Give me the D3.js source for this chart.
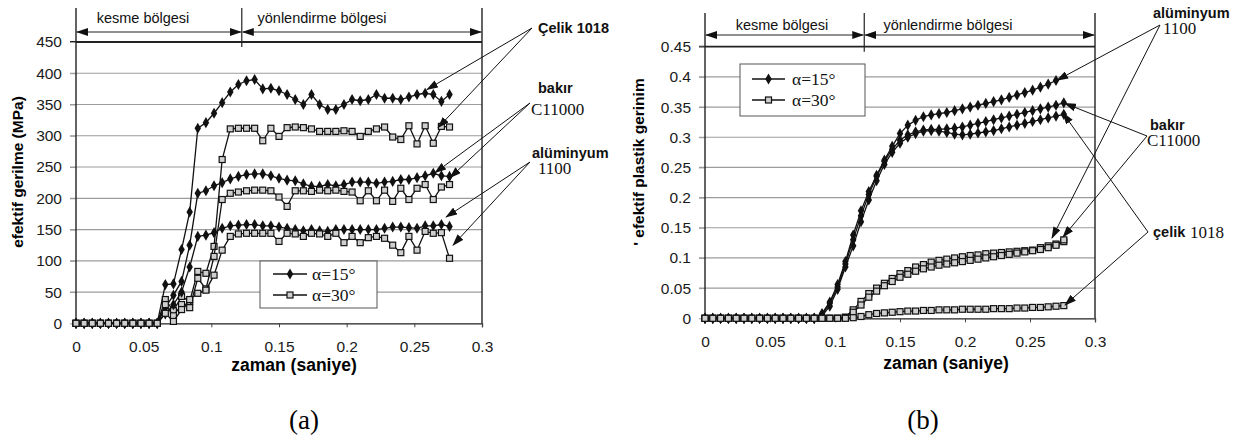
<!DOCTYPE html>
<html>
<head>
<meta charset="utf-8">
<script src="https://cdn.jsdelivr.net/npm/d3@7"></script>
<style>
body{margin:0;background:#fff}
svg{display:block}
</style>
</head>
<body>
<svg id="fig" width="1233" height="437"></svg>
<script>
// sampling times (s), shared by all curves
var timeS = [0,0.006,0.012,0.018,0.024,0.03,0.036,0.042,0.048,0.054,0.06,0.066,0.072,0.078,0.084,0.09,0.096,0.102,0.108,0.114,0.12,0.126,0.132,0.138,0.144,0.15,0.156,0.162,0.168,0.174,0.18,0.186,0.192,0.198,0.204,0.21,0.216,0.222,0.228,0.234,0.24,0.246,0.252,0.258,0.264,0.27,0.276];
var xTicks = [0,0.05,0.1,0.15,0.2,0.25,0.3];

// (a) efektif gerilme, MPa
var stressTicks = [0,50,100,150,200,250,300,350,400,450];
var celikA15 = [0,0,0,0,0,0,0,0,0,0,0,62,63,118,178,312,321,336,353,370,382,388,390,375,376,372,366,358,350,366,350,342,342,350,358,356,358,366,360,360,358,362,366,368,366,355,366];
var celikA30 = [0,0,0,0,0,0,0,0,0,0,0,38,20,43,35,83,80,123,262,311,312,312,312,292,312,299,313,314,313,311,307,307,307,308,307,299,307,311,314,298,294,316,287,316,288,315,314];
var bakirA15 = [0,0,0,0,0,0,0,0,0,0,0,25,45,67,125,208,212,220,225,231,235,238,239,239,236,232,229,228,223,219,219,222,220,222,226,226,226,224,226,227,230,230,233,236,240,236,235];
var bakirA30 = [0,0,0,0,0,0,0,0,0,0,0,30,12,30,25,72,55,107,198,208,210,212,213,213,212,202,187,212,212,211,213,212,213,211,210,196,212,196,213,195,216,198,216,222,198,218,222];
var aluA15 = [0,0,0,0,0,0,0,0,0,0,0,15,30,50,90,139,141,145,152,156,157,158,158,156,156,154,152,150,148,150,148,147,150,150,150,150,150,150,152,154,154,153,152,156,156,158,155];
var aluA30 = [0,0,0,0,0,0,0,0,0,0,0,16,3,22,38,48,53,77,117,139,143,144,144,144,144,131,144,143,139,144,143,139,144,129,139,129,137,139,136,125,113,139,117,147,144,145,104];

// (b) efektif plastik gerinim
var strainTicks = [0,0.05,0.1,0.15,0.2,0.25,0.3,0.35,0.4,0.45];
var aluB15 = [0,0,0,0,0,0,0,0,0,0,0,0,0,0,0,0.008,0.027,0.056,0.094,0.138,0.178,0.21,0.237,0.262,0.285,0.306,0.32,0.328,0.334,0.337,0.339,0.341,0.344,0.347,0.35,0.353,0.356,0.359,0.362,0.366,0.37,0.374,0.378,0.383,0.388,0.394];
var bakirB15 = [0,0,0,0,0,0,0,0,0,0,0,0,0,0,0,0.006,0.025,0.052,0.09,0.13,0.17,0.205,0.235,0.26,0.28,0.295,0.304,0.309,0.312,0.313,0.313,0.314,0.315,0.317,0.32,0.323,0.326,0.329,0.332,0.335,0.338,0.341,0.344,0.347,0.35,0.353,0.357];
var celikB15 = [0,0,0,0,0,0,0,0,0,0,0,0,0,0,0,0.004,0.02,0.048,0.085,0.12,0.16,0.196,0.228,0.255,0.275,0.29,0.3,0.306,0.31,0.311,0.31,0.308,0.305,0.304,0.305,0.307,0.309,0.311,0.314,0.317,0.32,0.323,0.326,0.329,0.332,0.335,0.338];
var aluB30 = [0,0,0,0,0,0,0,0,0,0,0,0,0,0,0,0,0,0,0.002,0.014,0.028,0.041,0.05,0.058,0.066,0.074,0.079,0.085,0.089,0.093,0.096,0.098,0.1,0.102,0.104,0.105,0.107,0.108,0.109,0.11,0.111,0.112,0.113,0.117,0.12,0.123,0.127];
var bakirB30 = [0,0,0,0,0,0,0,0,0,0,0,0,0,0,0,0,0,0,0.001,0.01,0.022,0.035,0.045,0.054,0.061,0.068,0.073,0.078,0.082,0.085,0.088,0.09,0.092,0.094,0.096,0.098,0.1,0.102,0.104,0.106,0.108,0.11,0.112,0.114,0.117,0.121,0.13];
var celikB30 = [0,0,0,0,0,0,0,0,0,0,0,0,0,0,0,0,0,0,0,0.001,0.003,0.006,0.008,0.009,0.01,0.011,0.012,0.012,0.013,0.013,0.014,0.014,0.014,0.015,0.015,0.015,0.015,0.016,0.016,0.016,0.017,0.017,0.018,0.018,0.019,0.02,0.021];

var legendNames = ["\u03b1=15\u00b0", "\u03b1=30\u00b0"];

var svg = d3.select("#fig");
var defs = svg.append("defs");
defs.append("marker").attr("id", "ah")
  .attr("markerUnits", "userSpaceOnUse")
  .attr("markerWidth", 12).attr("markerHeight", 8)
  .attr("refX", 11).attr("refY", 4)
  .attr("orient", "auto-start-reverse")
  .append("path").attr("d", "M0,0 L12,4 L0,8 z").attr("fill", "#111");

var fmt = function(d){ return d === 0 ? "0" : d3.format("~g")(d); };

function drawMark(g, kind, cx, cy){
  if (kind == "d") {
    g.append("path").attr("d", d3.symbol().type(d3.symbolDiamond).size(36)())
      .attr("transform", "translate(" + cx + "," + cy + ")").attr("fill", "#111");
  } else {
    g.append("rect").attr("x", cx - 3).attr("y", cy - 3)
      .attr("width", 6).attr("height", 6)
      .attr("fill", "#cfcfcf").attr("stroke", "#111").attr("stroke-width", 1.2);
  }
}

function drawPanel(p){
  var x = d3.scaleLinear().domain([0, 0.3]).range([p.left, p.right]);
  var y = d3.scaleLinear().domain([0, p.yMax]).range([p.bottom, p.top]);
  var g = svg.append("g");

  // grid
  g.selectAll(".grid").data(p.yTicks.filter(function(v){ return v > 0; }))
    .enter().append("line")
    .attr("x1", p.left - 6).attr("x2", p.right)
    .attr("y1", function(v){ return y(v); }).attr("y2", function(v){ return y(v); })
    .attr("stroke", function(v){ return v == p.yMax ? "#222" : "#9c9c9c"; })
    .attr("stroke-width", function(v){ return v == p.yMax ? 1.8 : 1.2; });

  // axes
  var ya = g.append("g").attr("transform", "translate(" + p.left + ",0)")
    .call(d3.axisLeft(y).tickValues(p.yTicks).tickFormat(fmt).tickSize(6).tickPadding(8));
  ya.select(".domain").remove();
  ya.selectAll("line").attr("stroke", "#9c9c9c");
  ya.selectAll("text").attr("font-family", "Liberation Sans, Arial, sans-serif")
    .attr("font-size", 15.5).attr("fill", "#1a1a1a");

  var xa = g.append("g").attr("transform", "translate(0," + p.bottom + ")")
    .call(d3.axisBottom(x).tickValues(xTicks).tickFormat(fmt).tickSize(4).tickPadding(14));
  xa.select(".domain").attr("stroke", "#222").attr("stroke-width", 1.3);
  xa.selectAll("line").attr("stroke", "#444");
  xa.selectAll("text").attr("font-family", "Liberation Sans, Arial, sans-serif")
    .attr("font-size", 15.5).attr("fill", "#1a1a1a");

  // frame verticals and zone marks
  [0, 0.3].forEach(function(t){
    g.append("line").attr("x1", x(t)).attr("x2", x(t))
      .attr("y1", p.vTop).attr("y2", p.bottom)
      .attr("stroke", "#222").attr("stroke-width", 1.4);
  });
  g.append("line").attr("x1", x(p.zoneT)).attr("x2", x(p.zoneT))
    .attr("y1", p.vTop).attr("y2", p.top + 5)
    .attr("stroke", "#222").attr("stroke-width", 1.2);
  [[0, p.zoneT], [p.zoneT, 0.3]].forEach(function(z){
    g.append("line").attr("x1", x(z[0]) + 1).attr("x2", x(z[1]) - 1)
      .attr("y1", p.arrowY).attr("y2", p.arrowY)
      .attr("stroke", "#222").attr("stroke-width", 1.2)
      .attr("marker-start", "url(#ah)").attr("marker-end", "url(#ah)");
  });
  p.zoneText.forEach(function(z){
    g.append("text").attr("x", z[0]).attr("y", p.zoneTextY)
      .attr("text-anchor", "middle")
      .attr("font-family", "Liberation Sans, Arial, sans-serif")
      .attr("font-size", 14.5).attr("fill", "#111").text(z[1]);
  });

  // titles
  g.append("text").attr("x", p.xTitle[0]).attr("y", p.xTitle[1])
    .attr("text-anchor", "middle").attr("font-family", "Liberation Sans, Arial, sans-serif")
    .attr("font-weight", "bold").attr("font-size", 17.5).attr("fill", "#000")
    .text("zaman (saniye)");
  g.append("text")
    .attr("transform", "translate(" + p.yTitle[0] + "," + p.yTitle[1] + ") rotate(-90)")
    .attr("text-anchor", "middle").attr("font-family", "Liberation Sans, Arial, sans-serif")
    .attr("font-weight", "bold").attr("font-size", 15.5).attr("fill", "#000")
    .text(p.yTitleText);

  // curves
  var line = d3.line().x(function(d){ return x(d[0]); }).y(function(d){ return y(d[1]); });
  p.series.forEach(function(s){
    var pts = s.vals.map(function(v, i){ return [timeS[i], v]; });
    g.append("path").attr("d", line(pts)).attr("fill", "none")
      .attr("stroke", "#111").attr("stroke-width", 1.3);
    pts.forEach(function(d){ drawMark(g, s.kind, x(d[0]), y(d[1])); });
  });

  // legend
  var L = p.legend;
  g.append("rect").attr("x", L.x).attr("y", L.y).attr("width", L.w).attr("height", L.h)
    .attr("fill", "#fff").attr("stroke", "#555").attr("stroke-width", 1);
  ["d", "s"].forEach(function(k, i){
    var ly = L.rowY[i];
    g.append("line").attr("x1", L.x + L.lx0).attr("x2", L.x + L.lx1)
      .attr("y1", ly).attr("y2", ly).attr("stroke", "#111").attr("stroke-width", 1.3);
    drawMark(g, k, L.x + (L.lx0 + L.lx1) / 2, ly);
    g.append("text").attr("x", L.x + L.tx).attr("y", ly + 6)
      .attr("font-family", "Liberation Serif, Times New Roman, serif")
      .attr("font-size", 17.5).attr("fill", "#111").text(legendNames[i]);
  });

  // annotations
  p.notes.forEach(function(n){
    n.tips.forEach(function(tp){
      g.append("line").attr("x1", n.from[0]).attr("y1", n.from[1])
        .attr("x2", x(tp[0])).attr("y2", y(tp[1]))
        .attr("stroke", "#111").attr("stroke-width", 1)
        .attr("marker-end", "url(#ah)");
    });
    n.labels.forEach(function(lb){
      g.append("text").attr("x", lb.x).attr("y", lb.y)
        .attr("font-family", lb.serif ? "Liberation Serif, Times New Roman, serif" : "Liberation Sans, Arial, sans-serif")
        .attr("font-weight", lb.serif ? "normal" : "bold")
        .attr("font-size", lb.serif ? 17 : 14.5).attr("fill", "#111").text(lb.t);
    });
  });

  svg.append("text").attr("x", p.caption[0]).attr("y", p.caption[1])
    .attr("text-anchor", "middle").attr("font-family", "Liberation Serif, Times New Roman, serif")
    .attr("font-size", 27).attr("fill", "#000").text(p.captionText);
}

drawPanel({
  left: 76, right: 482, top: 42, bottom: 323.3, vTop: 8, yMax: 450,
  yTicks: stressTicks, zoneT: 0.1225, arrowY: 32, zoneTextY: 23,
  zoneText: [[143, "kesme bölgesi"], [322, "yönlendirme bölgesi"]],
  xTitle: [294, 371], yTitle: [23, 172], yTitleText: "efektif gerilme (MPa)",
  series: [
    {vals: celikA15, kind: "d"}, {vals: celikA30, kind: "s"},
    {vals: bakirA15, kind: "d"}, {vals: bakirA30, kind: "s"},
    {vals: aluA15, kind: "d"}, {vals: aluA30, kind: "s"}
  ],
  legend: {x: 260, y: 261, w: 117, h: 47, rowY: [274, 295], lx0: 13, lx1: 47, tx: 52},
  notes: [
    {from: [532, 28], tips: [[0.2594, 374], [0.2676, 313]],
     labels: [{x: 538, y: 33, t: "Çelik 1018"}]},
    {from: [530, 103], tips: [[0.2653, 241], [0.2764, 233]],
     labels: [{x: 538, y: 93, t: "bakır"}, {x: 531, y: 115, t: "C11000", serif: true}]},
    {from: [530, 162], tips: [[0.2735, 170], [0.2786, 125]],
     labels: [{x: 532, y: 158, t: "alüminyum"}, {x: 538, y: 174, t: "1100", serif: true}]}
  ],
  caption: [304, 429], captionText: "(a)"
});

drawPanel({
  left: 705, right: 1095, top: 46.7, bottom: 318.3, vTop: 13, yMax: 0.45,
  yTicks: strainTicks, zoneT: 0.1225, arrowY: 35, zoneTextY: 30,
  zoneText: [[782, "kesme bölgesi"], [948, "yönlendirme bölgesi"]],
  xTitle: [946, 369], yTitle: [644, 162], yTitleText: "' efektif plastik gerinim",
  series: [
    {vals: aluB15, kind: "d"}, {vals: bakirB15, kind: "d"}, {vals: celikB15, kind: "d"},
    {vals: aluB30, kind: "s"}, {vals: bakirB30, kind: "s"}, {vals: celikB30, kind: "s"}
  ],
  legend: {x: 740, y: 64, w: 125, h: 52, rowY: [79, 100], lx0: 12, lx1: 45, tx: 52},
  notes: [
    {from: [1160, 25], tips: [[0.2708, 0.3945], [0.2669, 0.133]],
     labels: [{x: 1153, y: 18, t: "alüminyum"}, {x: 1163, y: 34, t: "1100", serif: true}]},
    {from: [1147, 136], tips: [[0.2769, 0.356], [0.2754, 0.1346]],
     labels: [{x: 1150, y: 130, t: "bakır"}, {x: 1147, y: 146, t: "C11000", serif: true}]},
    {from: [1148, 232], tips: [[0.2754, 0.34], [0.2769, 0.022]],
     labels: [{x: 1153, y: 237, t: "çelik"}, {x: 1190, y: 238, t: "1018", serif: true}]}
  ],
  caption: [923, 429], captionText: "(b)"
});
</script>
</body>
</html>
